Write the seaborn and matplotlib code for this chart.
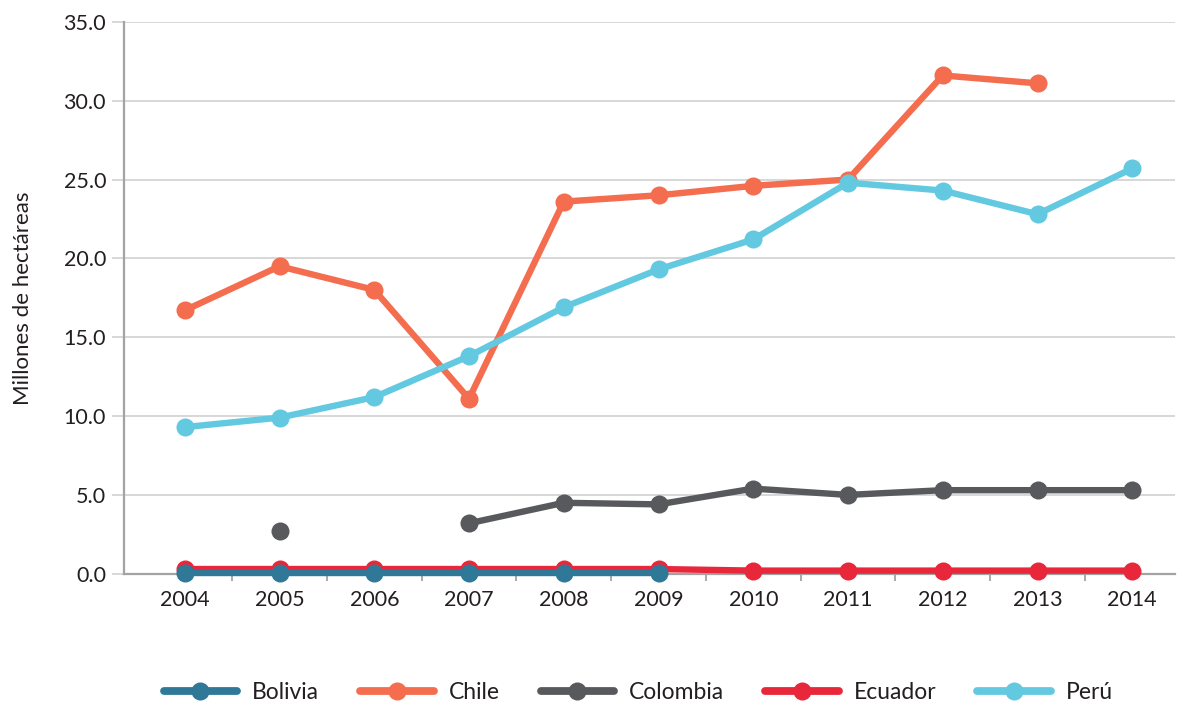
import numpy as np
import pandas as pd
import matplotlib
matplotlib.use("Agg")
import matplotlib.pyplot as plt
from matplotlib.ticker import FixedLocator, FormatStrFormatter
from matplotlib.lines import Line2D
import seaborn as sns

years = list(range(2004, 2015))
bolivia = [0.05, 0.05, 0.05, 0.05, 0.05, 0.05, np.nan, np.nan, np.nan, np.nan, np.nan]
chile = [16.7, 19.5, 18.0, 11.1, 23.6, 24.0, 24.6, 25.0, 31.6, 31.1, np.nan]
colombia = [np.nan, 2.7, np.nan, 3.2, 4.5, 4.4, 5.4, 5.0, 5.3, 5.3, 5.3]
ecuador = [0.3, 0.3, 0.3, 0.3, 0.3, 0.3, 0.2, 0.2, 0.2, 0.2, 0.2]
peru = [9.3, 9.9, 11.2, 13.8, 16.9, 19.3, 21.2, 24.8, 24.3, 22.8, 25.7]

series_names = ["Bolivia", "Chile", "Colombia", "Ecuador", "Perú"]
series_values = [bolivia, chile, colombia, ecuador, peru]
colors = ["#2f7898", "#f36d4e", "#58595c", "#e8273b", "#63c9e1"]
zorders = [6, 3, 4, 5, 7]

sns.set_theme(style="white")
plt.rcParams["font.family"] = ["Lato", "DejaVu Sans"]

fig = plt.figure(figsize=(11.82, 7.04), dpi=100)
ax = fig.add_axes([0.105, 0.185, 0.889, 0.784])

lw = 4.6
ms = 13
for name, vals, col, z in zip(series_names, series_values, colors, zorders):
    df = pd.DataFrame({"year": years, "value": vals})
    df = df.dropna().reset_index(drop=True)
    seg = (df["year"].diff().fillna(1) > 1).cumsum()
    df["seg"] = seg
    sns.lineplot(data=df, x="year", y="value", units="seg", estimator=None,
                 color=col, linewidth=lw, marker="o", markersize=ms,
                 markeredgewidth=0, ax=ax, zorder=z, legend=False, clip_on=False)

ax.set_xlim(2004 - 0.64, 2014 + 0.45)
ax.set_ylim(0, 35)
ax.yaxis.set_major_locator(FixedLocator(np.arange(0, 35.1, 5)))
ax.yaxis.set_major_formatter(FormatStrFormatter("%.1f"))
ax.set_xticks(years)
ax.set_xticklabels([str(y) for y in years])
ax.xaxis.set_minor_locator(FixedLocator([y + 0.5 for y in years[:-1]]))

ax.grid(axis="y", color="#d4d4d4", linewidth=1.3, zorder=0)
ax.set_axisbelow(True)
for s in ["top", "right"]:
    ax.spines[s].set_visible(False)
ax.spines["left"].set_color("#a3a3a3")
ax.spines["left"].set_linewidth(1.6)
ax.spines["bottom"].set_color("#a3a3a3")
ax.spines["bottom"].set_linewidth(1.6)

ax.tick_params(axis="y", which="major", length=9, width=1.3, color="#d4d4d4",
               labelsize=15.5, labelcolor="#231f20", pad=4, left=True)
ax.tick_params(axis="x", which="major", length=0, labelsize=15.5,
               labelcolor="#231f20", pad=12, bottom=True)
ax.tick_params(axis="x", which="minor", length=5, width=1.3, color="#a3a3a3",
               bottom=True)

ax.set_xlabel("")
ax.set_ylabel("Millones de hectáreas", fontsize=16, color="#231f20", labelpad=22)

handles = [Line2D([0], [0], color=c, linewidth=lw + 1, marker="o", markersize=ms,
                  markeredgewidth=0) for c in colors]
fig.legend(handles, series_names, loc="center", bbox_to_anchor=(0.54, 0.016),
           ncol=5, frameon=False, fontsize=16.5, handlelength=3.2,
           handletextpad=0.65, columnspacing=1.8, labelcolor="#231f20")

fig.savefig("out.png", dpi=100)
